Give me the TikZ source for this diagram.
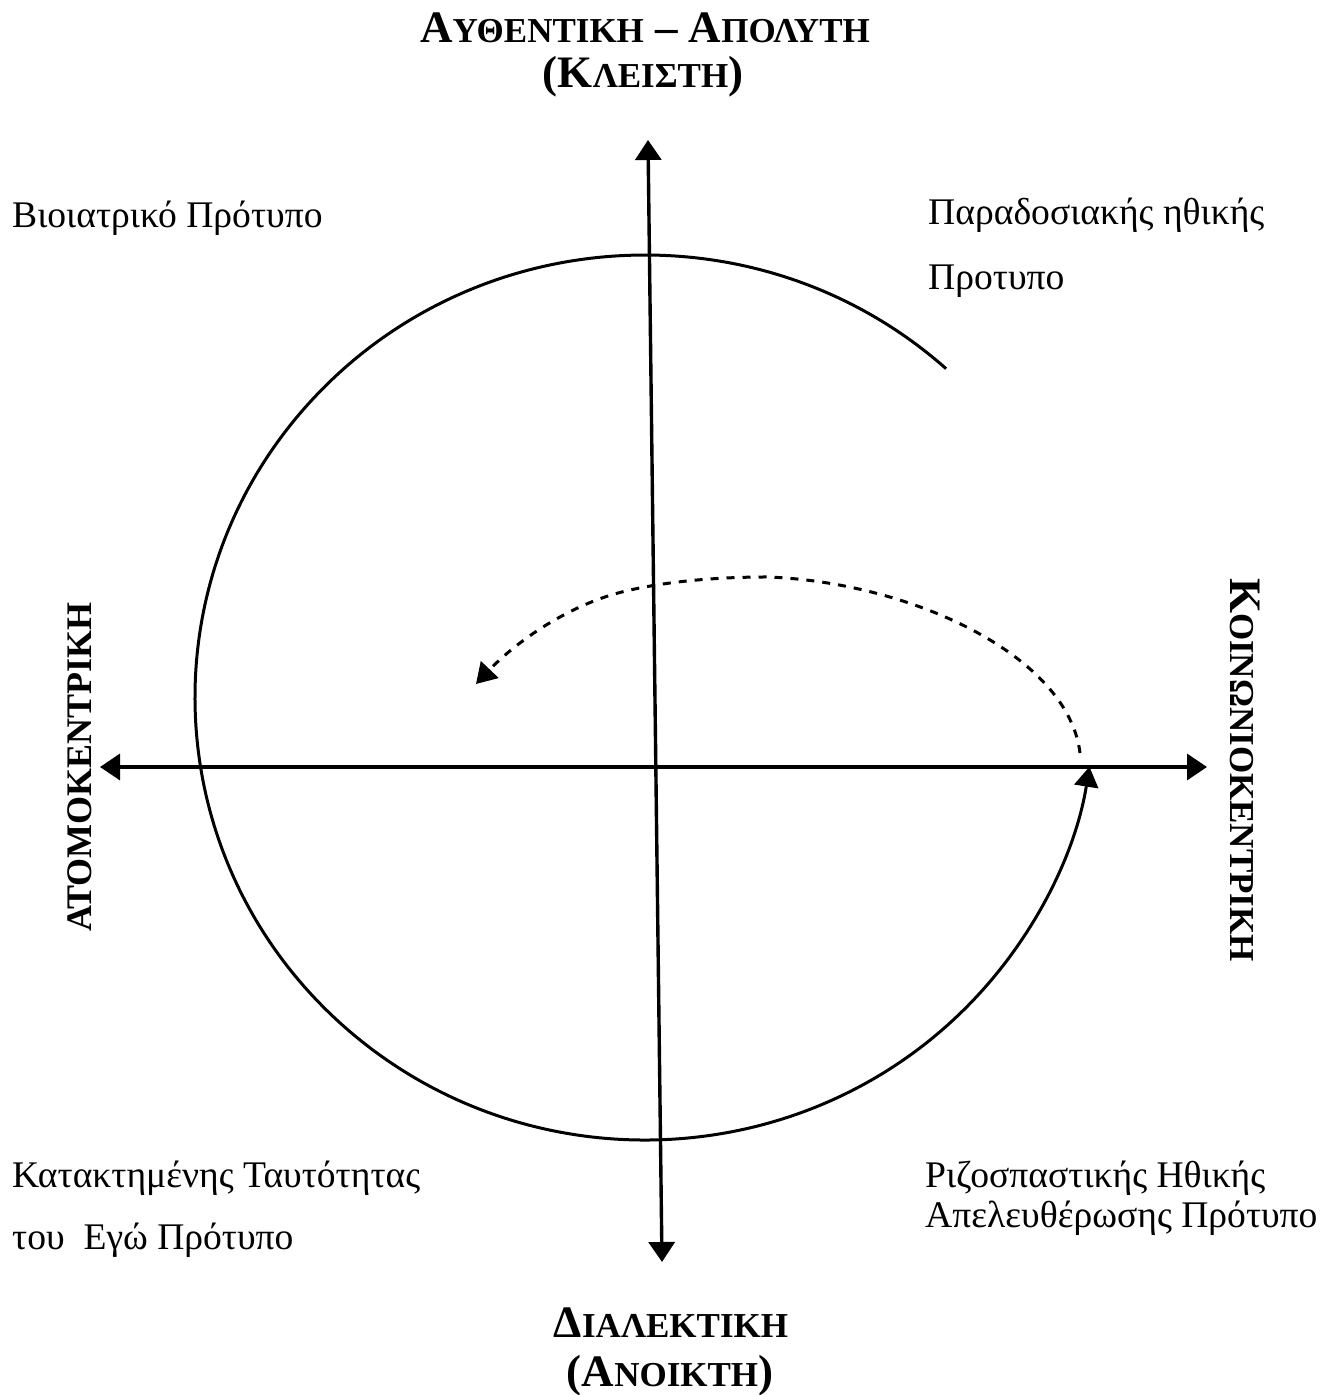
\documentclass[tikz,border=0pt]{standalone}
\usepackage{fontspec}
\setmainfont{Liberation Serif}
\usetikzlibrary{arrows.meta}
\newcommand\mysc[1]{{\fontsize{35}{35}\selectfont #1}}
\begin{document}
\begin{tikzpicture}[x=1pt,y=1pt,
  axis/.style={line width=3.4pt,{Triangle[length=20pt,width=26pt]}-{Triangle[length=20pt,width=26pt]}},
  curve/.style={line width=3pt},
  dashline/.style={line width=3pt,dash pattern=on 8pt off 8pt,-{Triangle[length=20pt,width=24pt]}},
  lbl/.style={font=\fontsize{37.6}{37.6}\selectfont,anchor=base west,inner sep=0pt},
  ttl/.style={font=\fontsize{45}{45}\selectfont\bfseries,anchor=base,inner sep=0pt}]
\useasboundingbox (0,0) rectangle (1332,1395);
% axes
\coordinate (top) at (648,1255);
\coordinate (bot) at (662,133);
\coordinate (lft) at (100,628);
\coordinate (rgt) at (1207,628);
\draw[axis] (bot) -- (top);
\draw[axis] (lft) -- (rgt);
% spiral
\coordinate (s0) at (946.1,1026.3);
\draw[curve,-{Triangle[length=20pt,width=24pt]}] (s0) arc[start angle=48,end angle=351,x radius=450pt,y radius=442.5pt] coordinate (s1);
% dashed return
\coordinate (d0) at (1080,642);
\coordinate (d1) at (767,818);
\coordinate (d2) at (605,798);
\coordinate (d3) at (476,711);
\draw[dashline] (d0) .. controls (1068,740) and (910,813) .. (d1)
  .. controls (700,818) and (640,810) .. (d2)
  .. controls (560,783) and (515,752) .. (d3);
% titles
\node[ttl] (t1) at (645,1352) {A\mysc{ΥΘΕΝΤΙΚΗ} – A\mysc{ΠΟΛΥΤΗ}};
\node[ttl] (t2) at (643,1307) {(Κ\mysc{ΛΕΙΣΤΗ})};
\node[ttl] (b1) at (671,57) {Δ\mysc{ΙΑΛΕΚΤΙΚΗ}};
\node[ttl] (b2) at (670,9) {(Α\mysc{ΝΟΙΚΤΗ})};
\node[ttl,anchor=center,rotate=90,font=\fontsize{36}{36}\selectfont\bfseries] (lv) at (80,628) {ΑΤΟΜΟΚΕΝΤΡΙΚΗ};
\node[ttl,anchor=center,rotate=-90] (rv) at (1245,625) {Κ\mysc{ΟΙΝΩΝΙΟΚΕΝΤΡΙΚΗ}};
% quadrant labels
\node[lbl] (q1) at (12,1167) {Βιοιατρικό Πρότυπο};
\node[lbl] (q2a) at (928,1170) {Παραδοσιακής ηθικής};
\node[lbl] (q2b) at (928,1105) {Προτυπο};
\node[lbl] (q3a) at (12,207) {Κατακτημένης Ταυτότητας};
\node[lbl] (q3b) at (12,145) {του \ Εγώ Πρότυπο};
\node[lbl] (q4a) at (925,207) {Ριζοσπαστικής Ηθικής};
\node[lbl] (q4b) at (925,167) {Απελευθέρωσης Πρότυπο};
\end{tikzpicture}
\end{document}
